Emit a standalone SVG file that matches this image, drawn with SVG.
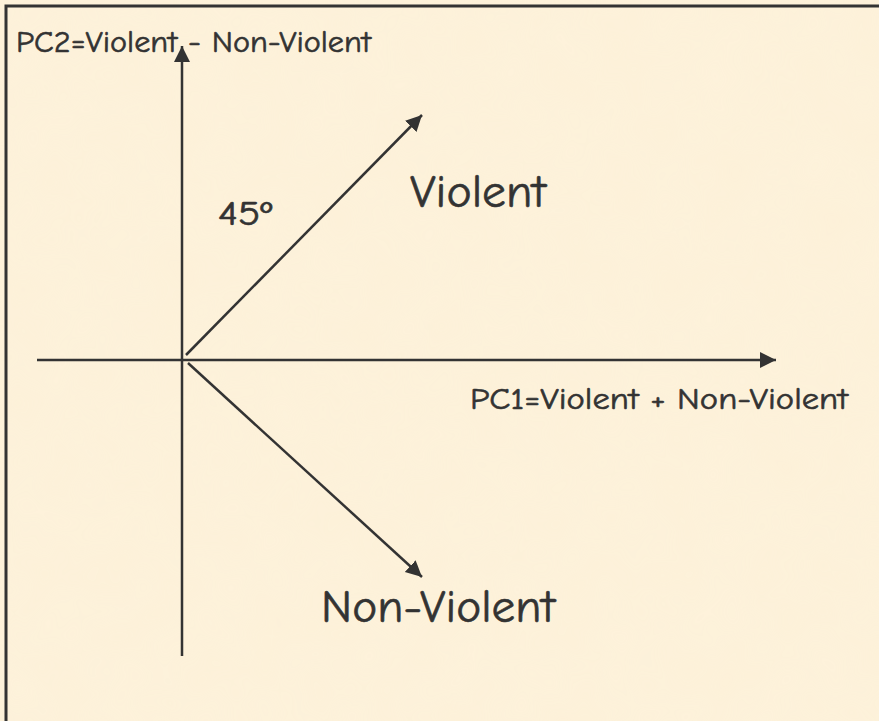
<svg xmlns="http://www.w3.org/2000/svg" width="879" height="721" viewBox="0 0 879 721">
  <style>
    .ax { stroke: #333333; stroke-width: 2.5; fill: none; marker-end: url(#ah); }
    .lbl { font-family: "Comic Sans MS", "Comic Neue", "DejaVu Sans", sans-serif; fill: #333333; stroke: #333333; stroke-width: 0.6; }
  </style>
  <defs>
    <marker id="ah" markerUnits="userSpaceOnUse" markerWidth="18" markerHeight="18" viewBox="0 0 18 18" refX="16" refY="9" orient="auto">
      <path d="M0,1 L16,9 L0,17 Z" fill="#333333"/>
    </marker>
    <filter id="tex" x="0" y="0" width="100%" height="100%">
      <feTurbulence type="fractalNoise" baseFrequency="0.02" numOctaves="2" seed="3" result="n"/>
      <feColorMatrix in="n" type="matrix" values="0 0 0 0 0.98  0 0 0 0 0.92  0 0 0 0 0.78  0 0 0 0.3 0"/>
    </filter>
  </defs>
  <rect x="0" y="0" width="879" height="721" fill="#fdf1d9"/>
  <rect x="0" y="0" width="879" height="721" filter="url(#tex)" opacity="0.5"/>
  <rect id="frame" x="6" y="6" width="900" height="760" fill="none" stroke="#333333" stroke-width="3"/>
  <g id="connectors">
    <line class="ax" x1="182" y1="656" x2="182" y2="46"/>
    <line class="ax" x1="37" y1="360" x2="776" y2="360"/>
    <line class="ax" x1="186" y1="355" x2="422" y2="115"/>
    <line class="ax" x1="188" y1="363" x2="422" y2="577"/>
  </g>
  <g id="pc2">
    <text class="lbl" x="16" y="52" font-size="31" textLength="355" lengthAdjust="spacingAndGlyphs">PC2=Violent - Non-Violent</text>
  </g>
  <g id="pc1">
    <text class="lbl" x="470" y="409" font-size="31" textLength="378" lengthAdjust="spacingAndGlyphs">PC1=Violent + Non-Violent</text>
  </g>
  <g id="violent">
    <text class="lbl" x="410" y="207" font-size="46" textLength="136" lengthAdjust="spacingAndGlyphs">Violent</text>
  </g>
  <g id="nonviolent">
    <text class="lbl" x="321" y="622" font-size="46" textLength="234" lengthAdjust="spacingAndGlyphs">Non-Violent</text>
  </g>
  <g id="angle">
    <text class="lbl" x="218" y="225" font-size="35" textLength="54" lengthAdjust="spacingAndGlyphs">45º</text>
  </g>
</svg>
